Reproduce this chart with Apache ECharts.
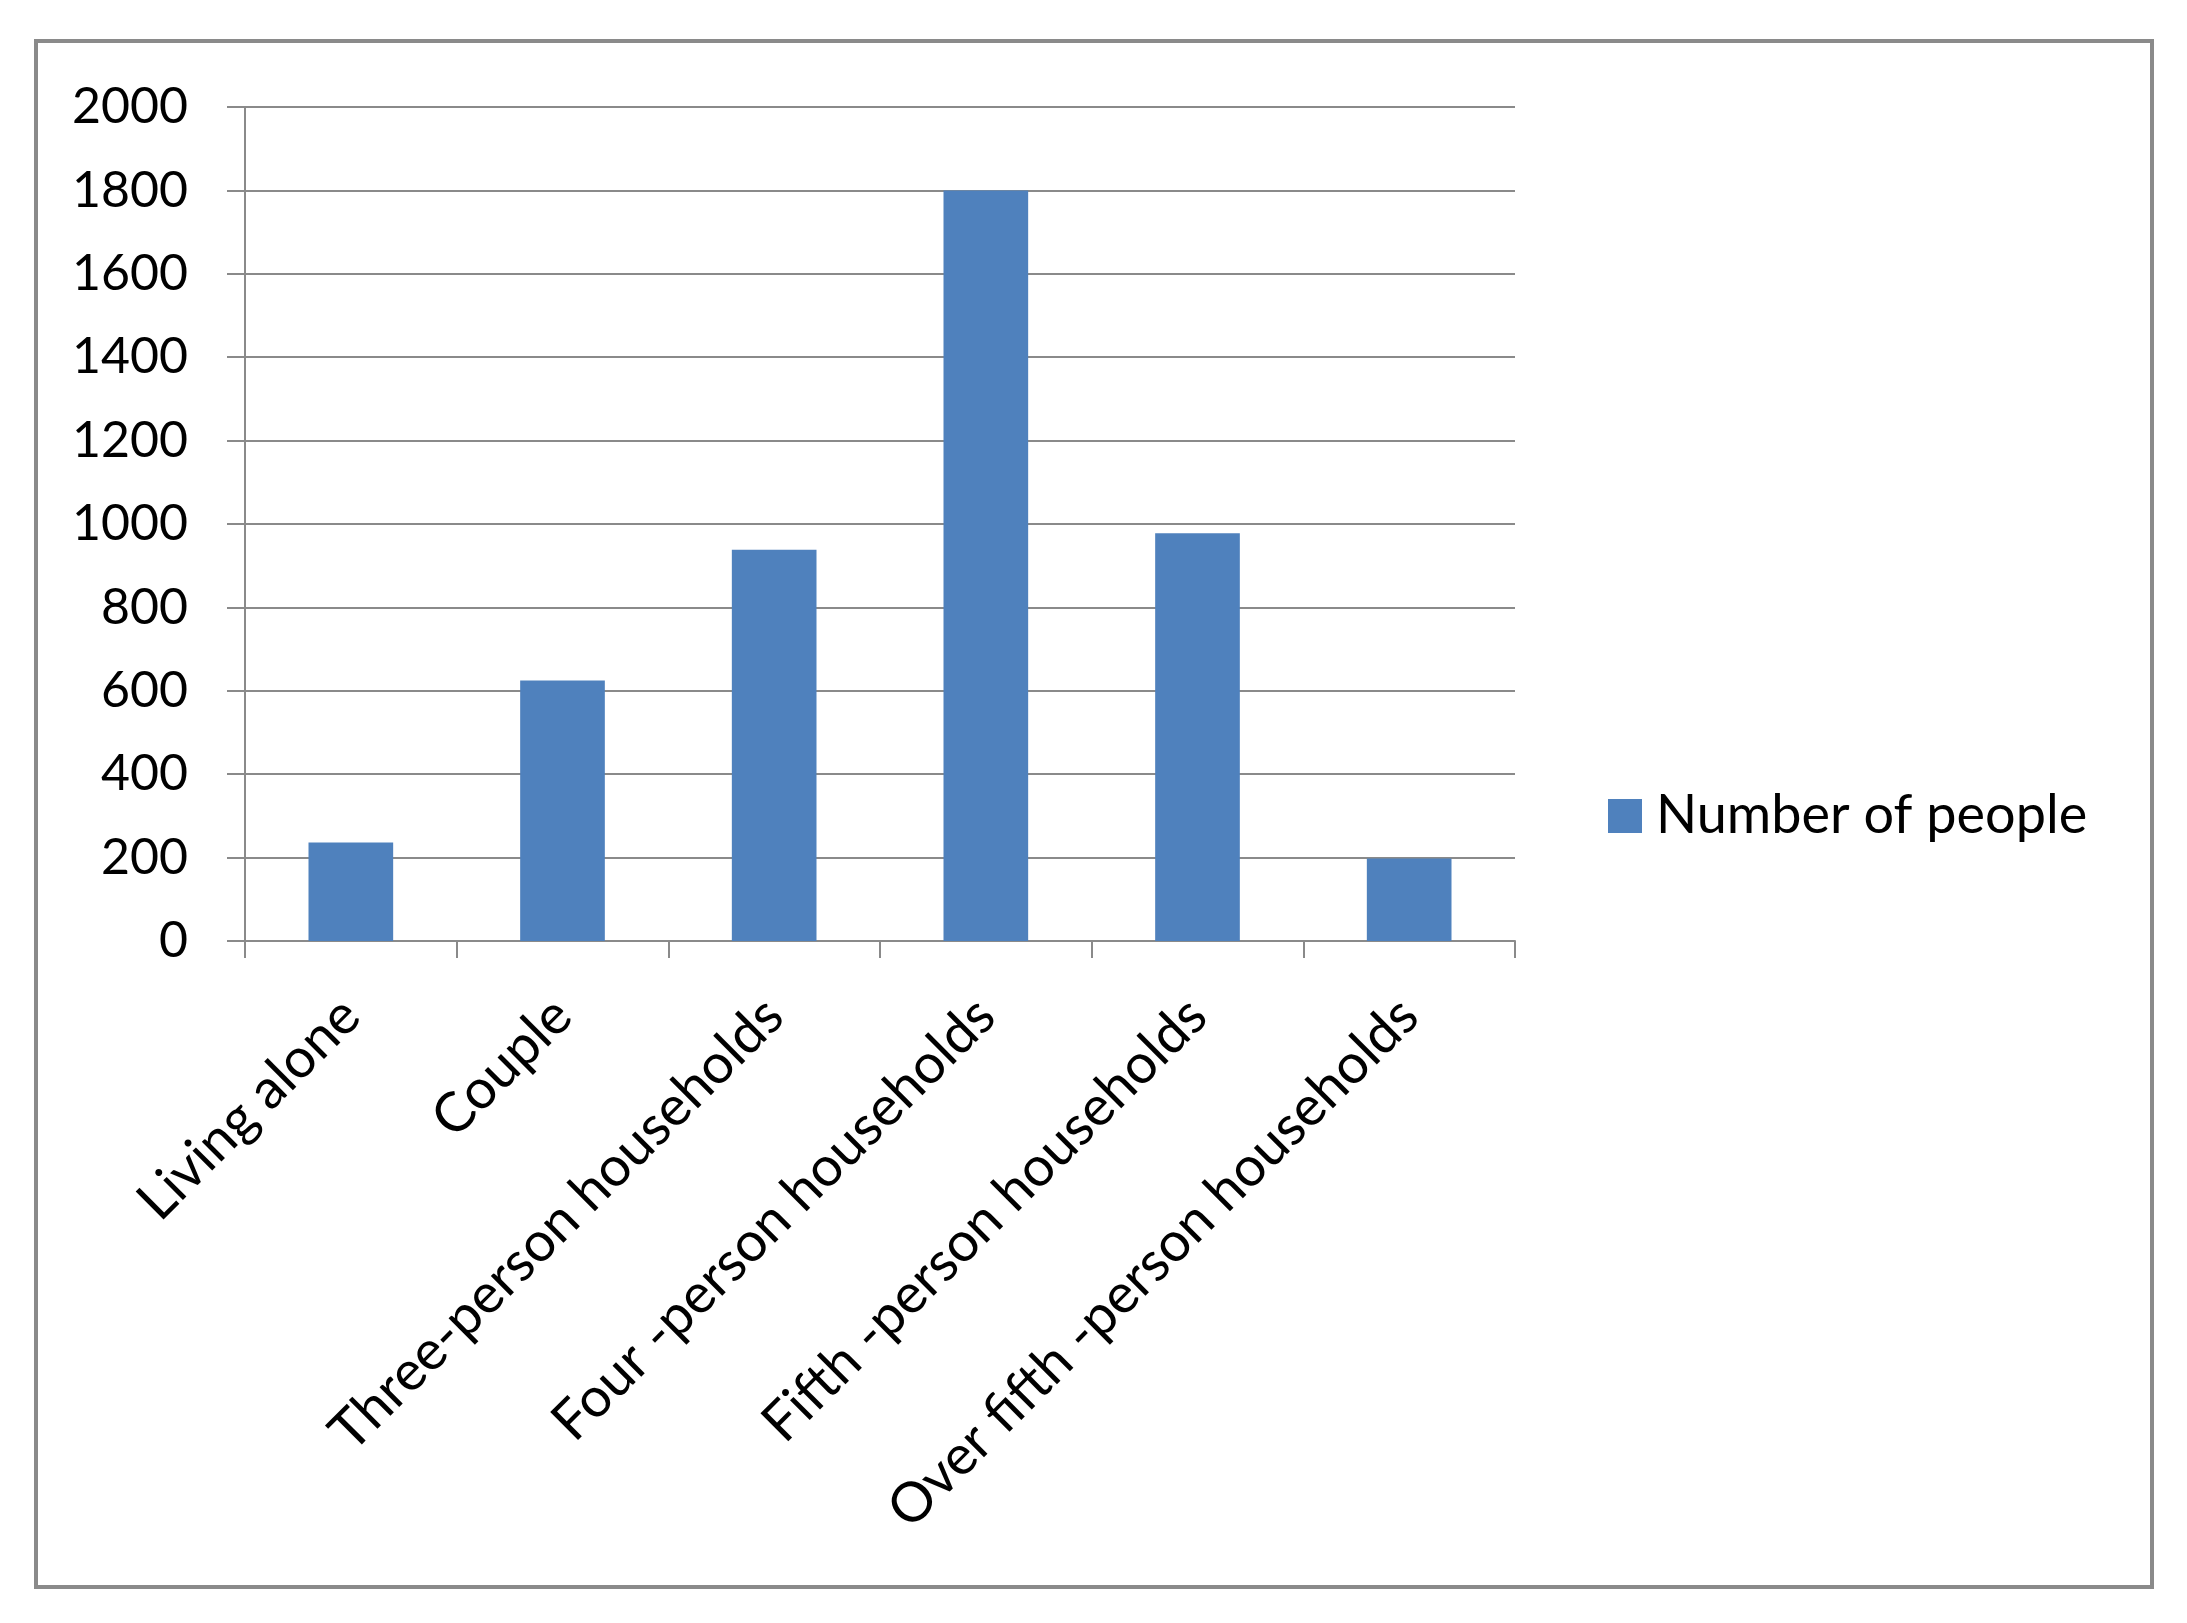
<!DOCTYPE html>
<html>
<head>
<meta charset="utf-8">
<script src="https://cdn.jsdelivr.net/npm/echarts@6/dist/echarts.min.js"></script>
<style>
    html, body { margin: 0; padding: 0; background: #fff; }
    #main { width: 2187px; height: 1623px; }
</style>
</head>
<body>
<div id="main"></div>
<script>
// household types and people count
let categories = ['Living alone', 'Couple', 'Three-person households', 'Four -person households', 'Fifth -person households', 'Over fifth -person households'];
let people = [236, 625, 938, 1800, 978, 198];
let seriesName = 'Number of people';

(function() {
    let chartDom = document.getElementById('main');
    let myChart = echarts.init(chartDom);
    let gray = '#8a8a8a';
    let font = 'Lato, "Open Sans", sans-serif';
    let option = {
        animation: false,
        backgroundColor: '#fff',
        graphic: [{
            type: 'rect',
            shape: { x: 36, y: 41, width: 2116, height: 1546 },
            style: { fill: 'none', stroke: gray, lineWidth: 4 },
            silent: true
        }],
        legend: {
            orient: 'vertical',
            left: 1603,
            top: 784,
            itemWidth: 34,
            itemHeight: 34,
            textStyle: { fontSize: 54, fontFamily: font, color: '#000', padding: [0, 0, 0, 9] },
            data: [{ name: seriesName, icon: 'rect' }]
        },
        grid: {
            left: 245,
            right: 672,
            top: 107,
            bottom: 682
        },
        xAxis: {
            type: 'category',
            data: categories,
            axisLine: { lineStyle: { color: gray, width: 2 } },
            axisTick: { show: true, length: 17, lineStyle: { color: gray, width: 2 } },
            axisLabel: {
                interval: 0,
                rotate: 45,
                margin: 66,
                fontSize: 55,
                fontFamily: font,
                color: '#000'
            }
        },
        yAxis: {
            type: 'value',
            min: 0,
            max: 2000,
            interval: 200,
            axisLine: { show: true, lineStyle: { color: gray, width: 2 } },
            axisTick: { show: true, length: 18, lineStyle: { color: gray, width: 2 } },
            splitLine: { lineStyle: { color: gray, width: 2 } },
            axisLabel: {
                margin: 57,
                fontSize: 50,
                fontFamily: font,
                color: '#000',
                formatter: function(v) { return String(v); }
            }
        },
        series: [{
            name: seriesName,
            type: 'bar',
            data: people,
            barCategoryGap: '60%',
            itemStyle: { color: '#4f81bd' }
        }]
    };
    myChart.setOption(option);
    window.addEventListener('resize', function() {
        myChart.resize();
    });
})();
</script>
</body>
</html>
